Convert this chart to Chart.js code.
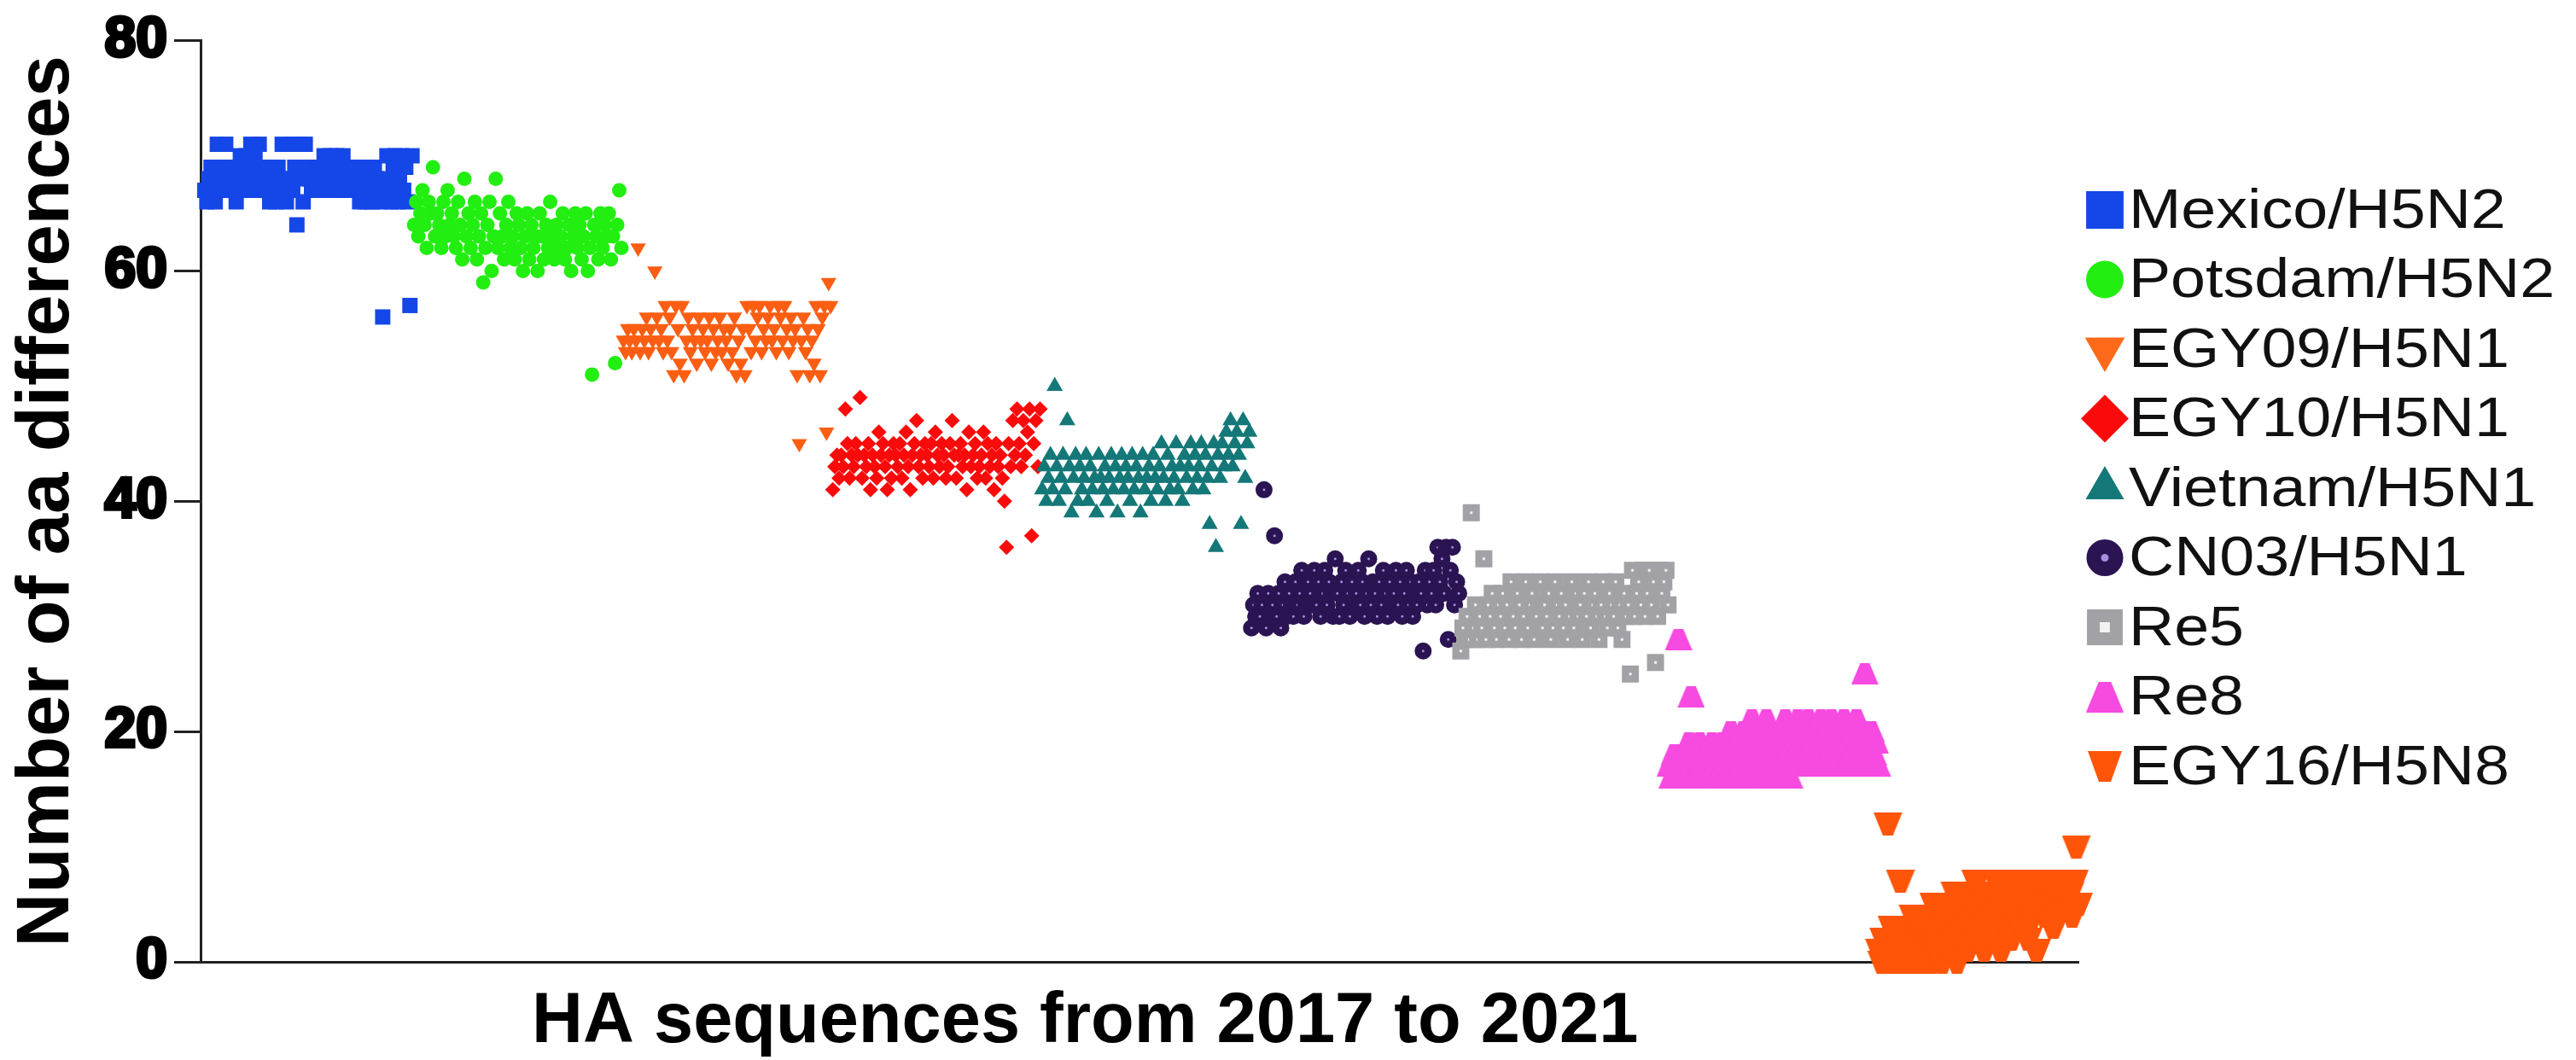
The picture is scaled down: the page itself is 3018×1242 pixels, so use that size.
<!DOCTYPE html>
<html>
<head>
<meta charset="utf-8">
<title>HA aa differences</title>
<script src="https://cdn.jsdelivr.net/npm/chart.js@4.4.1/dist/chart.umd.min.js"></script>
<style>
    html, body { margin: 0; padding: 0; background: #ffffff; }
    #wrap { width: 3018px; height: 1242px; }
</style>
</head>
<body>
<div id="wrap"><canvas id="chartHA" width="3018" height="1242"></canvas></div>
<script>
// lineage names (legend order)
var seriesNames = ['Mexico/H5N2', 'Potsdam/H5N2', 'EGY09/H5N1', 'EGY10/H5N1', 'Vietnam/H5N1',
                   'CN03/H5N1', 'Re5', 'Re8', 'EGY16/H5N8'];

// number of aa differences, one value per HA sequence
var mexicoY  = [67,66,68,69,67,66,71,68,67,69, 71,68,69,67,68,66,69,70,68,67,
                70,69,71,68,70,67,71,69,68,67, 69,66,68,67,66,69,68,71,67,66,
                68,71,67,69,64,71,68,66,71,69, 68,67,69,68,67,69,68,70,67,69,
                70,68,67,70,69,68,70,67,69,68, 67,69,68,67,66,68,69,66,68,67,
                66,69,68,67,66,56,68,70,67,66, 69,70,66,68,70,67,69,66,57,70];
var potsdamY = [64,66,63,65,67,64,62,66,65,69, 63,65,64,62,66,63,67,64,65,63,
                62,66,64,61,68,63,65,62,64,66, 61,63,65,59,62,64,66,60,63,68,
                62,65,63,61,64,66,62,63,61,65, 64,62,60,63,65,61,64,62,63,60,
                65,63,61,64,62,66,63,61,64,62, 63,65,61,62,64,60,63,65,62,64,
                61,63,65,60,62,51,64,63,61,65, 62,64,63,65,61,63,52,64,67,62];
var egy09Y   = [54,53,55,54,53,55,54,62,53,55, 54,56,53,55,54,60,56,54,55,53,
                57,54,56,53,51,57,55,52,57,51, 54,56,53,55,54,52,56,54,55,53,
                54,56,52,55,53,54,56,53,55,54, 52,55,53,56,51,54,52,55,51,57,
                55,53,57,54,56,57,53,55,54,56, 57,54,55,53,57,56,54,57,55,53,
                56,54,55,51,45,54,56,53,55,51, 54,52,57,55,51,56,57,46,59,57];
var egy10Y   = [41,43,44,42,44,43,48,45,42,44, 43,45,44,49,42,44,43,45,41,44,
                43,42,46,44,45,43,41,44,42,45, 44,43,45,42,44,46,43,41,44,45,
                47,43,44,42,45,44,43,45,42,46, 44,43,45,44,42,43,45,47,44,42,
                44,45,43,44,41,46,43,44,45,42, 43,44,46,42,45,43,44,41,45,43,
                44,42,40,36,45,43,47,44,48,45, 43,47,44,46,48,37,45,47,43,48];
var vietnamY = [41,43,40,42,44,41,50,43,40,42, 44,41,47,43,39,42,44,40,43,41,
                42,44,40,43,41,42,39,44,42,41, 43,40,42,44,41,43,39,42,44,41,
                43,42,40,44,41,43,42,39,44,41, 42,43,40,44,42,41,43,45,42,40,
                44,41,43,42,45,41,43,40,44,42, 43,45,41,44,42,43,45,41,44,42,
                38,43,45,36,44,42,45,43,46,44, 47,43,45,46,44,38,47,42,45,46];
var cn03Y    = [29,31,30,32,30,31,41,29,32,30, 31,37,30,32,29,31,33,30,32,31,
                30,33,31,32,34,30,31,33,32,31, 34,31,33,30,32,34,31,33,32,30,
                35,32,30,33,31,34,32,30,33,31, 32,34,31,33,30,32,35,31,33,32,
                30,33,31,34,32,30,33,31,32,34, 31,33,30,32,34,31,33,30,32,31,
                33,32,27,34,31,33,32,34,31,36, 33,35,32,36,28,34,36,31,33,32];
var re5Y     = [27,29,28,30,28,39,29,31,28,30, 29,35,28,31,30,32,29,28,31,30,
                32,29,31,28,33,30,29,32,31,28, 30,33,29,31,32,28,30,31,33,29,
                31,30,32,28,29,33,31,30,32,29, 31,28,30,33,29,32,30,31,28,32,
                30,33,29,31,32,30,28,31,33,30, 29,32,31,30,33,29,31,28,32,30,
                31,25,34,30,32,33,31,34,30,32, 34,31,33,26,30,34,32,33,34,31];
var re8Y     = [17,16,18,17,28,16,18,17,16,19, 23,17,16,18,19,17,16,18,17,16,
                19,18,17,16,18,19,17,16,18,20, 17,16,19,18,17,20,16,19,18,21,
                17,16,19,20,18,16,21,17,19,18, 20,16,18,19,17,21,18,16,20,19,
                18,21,17,19,20,18,21,17,19,20, 18,20,21,19,17,20,18,21,19,17,
                20,18,19,21,17,20,19,18,20,21, 19,17,20,25,18,19,20,18,19,17];
var egy16Y   = [1,0,2,1,12,0,3,1,2,0, 7,1,3,0,2,1,4,0,2,3,
                1,0,4,2,3,0,5,1,2,4, 0,3,5,1,4,2,6,0,3,5,
                2,4,1,6,3,5,7,2,4,6, 1,5,3,6,2,4,7,5,1,6,
                3,5,7,2,6,4,5,7,3,6, 5,2,7,4,6,1,5,7,6,4,
                6,5,7,3,6,4,7,5,6,7, 5,6,4,7,10,5,6,7,5,6];

var yTickValues = [0, 20, 40, 60, 80];
var xTitleText  = 'HA sequences from 2017 to 2021';
var yTitleText  = 'Number of aa differences';

// flat topped / flat bottomed triangles like the Prism symbols
function makeTrapezoid(w, h, narrow, color, pointDown) {
    var c   = document.createElement('canvas');
    c.width = w;
    c.height = h;
    var g = c.getContext('2d');
    g.fillStyle = color;
    g.beginPath();
    if (pointDown) {
        g.moveTo(0, 0);
        g.lineTo(w, 0);
        g.lineTo((w + narrow) / 2, h);
        g.lineTo((w - narrow) / 2, h);
    } else {
        g.moveTo((w - narrow) / 2, 0);
        g.lineTo((w + narrow) / 2, 0);
        g.lineTo(w, h);
        g.lineTo(0, h);
    }
    g.closePath();
    g.fill();
    return c;
}

var re8Mark      = makeTrapezoid(32, 25, 11, '#f64ae0', false);
var re8Legend    = makeTrapezoid(44, 36, 14, '#f64ae0', false);
var egy16Mark    = makeTrapezoid(34, 27, 12, '#ff5508', true);
var egy16Legend  = makeTrapezoid(40, 36, 14, '#ff5508', true);

// marker look per lineage
var markerStyles = [
    { bg: '#1546e8', border: '#1546e8', style: 'rect',     lstyle: 'rect',      rot: 0,   r: 12.7, bw: 0,   lr: 31, lbw: 0 },
    { bg: '#22ee11', border: '#22ee11', style: 'circle',   lstyle: 'circle',    rot: 0,   r: 8.5,  bw: 0,   lr: 22, lbw: 0 },
    { bg: '#fb5e12', border: '#fb5e12', style: 'triangle', lstyle: 'triangle',  rot: 180, r: 10.5, bw: 0,   lr: 27, lbw: 0, lbg: '#ff6a1a' },
    { bg: '#fa0a0a', border: '#fa0a0a', style: 'rectRot',  lstyle: 'rectRot',   rot: 0,   r: 9,    bw: 0,   lr: 28, lbw: 0 },
    { bg: '#157878', border: '#157878', style: 'triangle', lstyle: 'triangle',  rot: 0,   r: 11,   bw: 0,   lr: 26, lbw: 0 },
    { bg: '#a38fe0', border: '#2a1452', style: 'circle',   lstyle: 'circle',    rot: 0,   r: 5.75, bw: 8.5, lr: 13, lbw: 17 },
    { bg: '#f2f2f2', border: '#a2a2a6', style: 'rect',     lstyle: 'rect',      rot: 0,   r: 8.1,  bw: 8.5, lr: 19, lbw: 15 },
    { bg: '#f64ae0', border: '#f64ae0', style: re8Mark,    lstyle: re8Legend,   rot: 0,   r: 17,   bw: 0,   lr: 24, lbw: 0 },
    { bg: '#ff5508', border: '#ff5508', style: egy16Mark,  lstyle: egy16Legend, rot: 0,   r: 18,   bw: 0,   lr: 23, lbw: 0 }
];

var allSeries = [mexicoY, potsdamY, egy09Y, egy10Y, vietnamY, cn03Y, re5Y, re8Y, egy16Y];

// x is just the running sequence number across all lineages
var seqNo = 0;
var datasets = allSeries.map(function (values, k) {
    var st = markerStyles[k];
    var pts = values.map(function (v) {
        seqNo++;
        return { x: seqNo, y: v };
    });
    return {
        label               :   seriesNames[k],
        data                :   pts,
        showLine            :   false,
        pointStyle          :   st.style,
        pointRotation       :   st.rot,
        pointRadius         :   st.r,
        pointBorderWidth    :   st.bw,
        pointBackgroundColor:   st.bg,
        pointBorderColor    :   st.border,
        order               :   allSeries.length - k,
        clip                :   false
    };
});

// legend on the right, drawn by hand so it sits like the original
var sideLegend = {
    id: 'sideLegend',
    afterDraw: function (chart) {
        var ctx = chart.ctx;
        ctx.save();
        chart.data.datasets.forEach(function (ds, k) {
            var st = markerStyles[k];
            var y  = 246 + k * 81.5;
            ctx.fillStyle   = st.lbg || st.bg;
            ctx.strokeStyle = st.border;
            ctx.lineWidth   = st.lbw;
            Chart.helpers.drawPoint(ctx, {
                pointStyle  : st.lstyle,
                rotation    : st.rot,
                radius      : st.lr,
                borderWidth : st.lbw
            }, 2466, y);

            ctx.save();
            ctx.translate(2494, y + 3);
            ctx.scale(1.15, 1);
            ctx.fillStyle    = '#111111';
            ctx.font         = '64px "Liberation Sans", Arial, sans-serif';
            ctx.textAlign    = 'left';
            ctx.textBaseline = 'middle';
            ctx.fillText(ds.label, 0, 0);
            ctx.restore();
        });
        ctx.restore();
    }
};

// x axis title, a bit left of centre as in the figure
var xTitle = {
    id: 'xTitle',
    afterDraw: function (chart) {
        var ctx  = chart.ctx;
        var area = chart.chartArea;
        ctx.save();
        ctx.fillStyle    = '#000000';
        ctx.font         = 'bold 83px "Liberation Sans", Arial, sans-serif';
        ctx.textAlign    = 'center';
        ctx.textBaseline = 'alphabetic';
        ctx.fillText(xTitleText, area.left + (area.right - area.left) * 0.471, 1221);
        ctx.restore();
    }
};

var haChart = document.getElementById('chartHA').getContext('2d');
new Chart(haChart, {
    type: 'scatter',
    data: { datasets: datasets },
    options: {
        responsive: false,
        animation: false,
        devicePixelRatio: 1,
        layout: { padding: { left: 0, right: 583, top: 43, bottom: 0 } },
        plugins: {
            legend: { display: false },
            tooltip: { enabled: false }
        },
        scales: {
            x: {
                type: 'linear',
                min: -1,
                max: 896,
                ticks: { display: false },
                grid: { display: false, drawTicks: false },
                border: { display: true, color: '#222222', width: 3 },
                afterFit: function (scale) { scale.height = 115; }
            },
            y: {
                min: 0,
                max: 80,
                afterBuildTicks: function (scale) {
                    scale.ticks = yTickValues.map(function (v) { return { value: v }; });
                },
                ticks: {
                    color: '#000000',
                    padding: 8,
                    textStrokeColor: '#000000',
                    textStrokeWidth: 4,
                    font: { family: '"Liberation Sans", Arial, sans-serif', weight: 'bold', size: 66 }
                },
                grid: { drawOnChartArea: false, drawTicks: true, tickLength: 31, tickWidth: 3, tickColor: '#222222' },
                border: { display: true, color: '#222222', width: 3 },
                title: {
                    display: true,
                    text: yTitleText,
                    color: '#000000',
                    padding: { top: 4, bottom: 0 },
                    font: { family: '"Liberation Sans", Arial, sans-serif', weight: 'bold', size: 87 }
                },
                afterFit: function (scale) { scale.width = 235; }
            }
        }
    },
    plugins: [sideLegend, xTitle]
});
</script>
</body>
</html>
